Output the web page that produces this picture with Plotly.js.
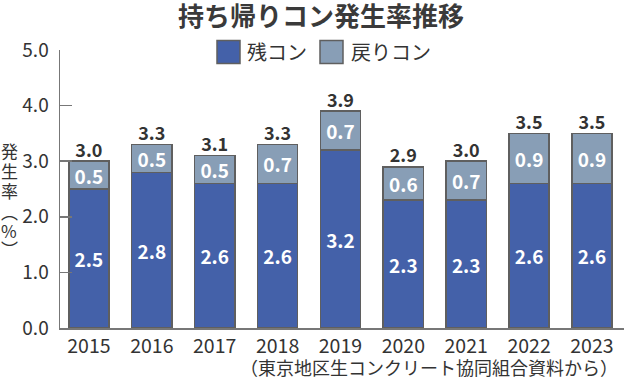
<!DOCTYPE html>
<html><head><meta charset="utf-8">
<script src="https://cdn.plot.ly/plotly-3.0.1.min.js"></script>
<style>html,body{margin:0;padding:0;background:#fff}</style>
</head><body>
<div id="chart" style="width:624px;height:381px"></div>
<script>
const years = ['2015','2016','2017','2018','2019','2020','2021','2022','2023'];
const zanCon = [2.5, 2.8, 2.6, 2.6, 3.2, 2.3, 2.3, 2.6, 2.6];
const modoriCon = [0.5, 0.5, 0.5, 0.7, 0.7, 0.6, 0.7, 0.9, 0.9];
const totals = [3.0, 3.3, 3.1, 3.3, 3.9, 2.9, 3.0, 3.5, 3.5];
const yTicks = [0, 1, 2, 3, 4, 5];
const yTickText = ['0.0', '1.0', '2.0', '3.0', '4.0', '5.0'];
const yTitleChars = ['発', '生', '率', '︵', '%', '︶'];
const seriesNames = ['残コン', '戻りコン'];
const seriesColors = ['#4461a9', '#889eb6'];

const F = '"Noto Sans CJK JP", "Noto Sans", sans-serif';
const lineC = '#5f5f5f';
const plotTop = 50, plotH = 278;
const py = px => (plotTop + plotH - px) / plotH;   // pixel row -> paper y
const pxX = px => (px - 60) / 564;                  // pixel col -> paper x

const traces = [
  {type:'bar', name:seriesNames[0], x:years, y:zanCon, width:0.64, showlegend:false,
   marker:{color:seriesColors[0], line:{color:lineC, width:1.5}},
   text:zanCon.map(v=>v.toFixed(1)), textposition:'inside', insidetextanchor:'middle',
   textfont:{family:F, size:19, color:'#fff', weight:700}, hoverinfo:'skip'},
  {type:'bar', name:seriesNames[1], x:years, y:modoriCon, width:0.64, showlegend:false,
   marker:{color:seriesColors[1], line:{color:lineC, width:1.5}},
   text:modoriCon.map(v=>v.toFixed(1)), textposition:'inside', insidetextanchor:'middle',
   textfont:{family:F, size:19, color:'#fff', weight:700}, hoverinfo:'skip'},
  {type:'scatter', mode:'text', x:years, y:totals, showlegend:false,
   text:totals.map(v=>v.toFixed(1)), textposition:'top center',
   textfont:{family:F, size:18, color:'#333', weight:700}, hoverinfo:'skip'}
];

const yTitleY = [150, 170, 190, 212, 230, 248];
const annotations = yTitleChars.map((c, i) => ({
  xref:'paper', yref:'paper', x:pxX(9), y:py(yTitleY[i]), xanchor:'center', yanchor:'middle',
  showarrow:false, text:c, font:{family:F, size:17, color:'#333'}
}));
annotations.push(
  {xref:'x', yref:'paper', x:'2015', y:py(367), xanchor:'center', yanchor:'middle', showarrow:false,
   text:'(年度)', font:{family:F, size:19, color:'#333'}},
  {xref:'paper', yref:'paper', x:pxX(620), y:py(367), xanchor:'right', yanchor:'middle', showarrow:false,
   text:'（東京地区生コンクリート協同組合資料から）', font:{family:F, size:18, color:'#333'}}
);

// legend (custom, to match the large square swatches)
const legendSq = [[217, 240], [320, 343]];
const legendTextX = [245, 349];
const shapes = [];
seriesNames.forEach((n, i) => {
  shapes.push({type:'rect', xref:'paper', yref:'paper',
    x0:pxX(legendSq[i][0]), x1:pxX(legendSq[i][1]), y0:py(63.5), y1:py(40.5),
    fillcolor:seriesColors[i], line:{color:lineC, width:1.5}});
  annotations.push({xref:'paper', yref:'paper', x:pxX(legendTextX[i]), y:py(52), xanchor:'left', yanchor:'middle',
    showarrow:false, text:n, font:{family:F, size:20, color:'#333'}});
});

const layout = {
  width:624, height:381,
  margin:{l:60, r:0, t:plotTop, b:53},
  paper_bgcolor:'#fff', plot_bgcolor:'#fff',
  barmode:'stack',
  uniformtext:{mode:'show', minsize:18},
  font:{family:F, color:'#333'},
  title:{text:'<b>持ち帰りコン発生率推移</b>', x:321/624, xanchor:'center', y:1-17/381, yanchor:'middle',
         font:{family:F, size:26, color:'#3a3a3a'}},
  showlegend:false,
  xaxis:{type:'category', range:[-0.46, 8.51], showline:true, linecolor:'#777', linewidth:1.5,
         ticks:'', tickfont:{family:F, size:19.5, color:'#333'}, showgrid:false, zeroline:false,
         ticklabelstandoff:0, fixedrange:true},
  yaxis:{range:[0,5], tickvals:yTicks, ticktext:yTickText, showline:true, linecolor:'#777', linewidth:1.5,
         ticks:'inside', ticklen:12, tickcolor:'#777', tickwidth:1.5, showgrid:false, zeroline:false,
         tickfont:{family:F, size:19, color:'#333'}, ticklabelstandoff:6, fixedrange:true},
  shapes:shapes,
  annotations:annotations
};
Plotly.newPlot('chart', traces, layout, {displayModeBar:false, staticPlot:true});
</script>
</body></html>
